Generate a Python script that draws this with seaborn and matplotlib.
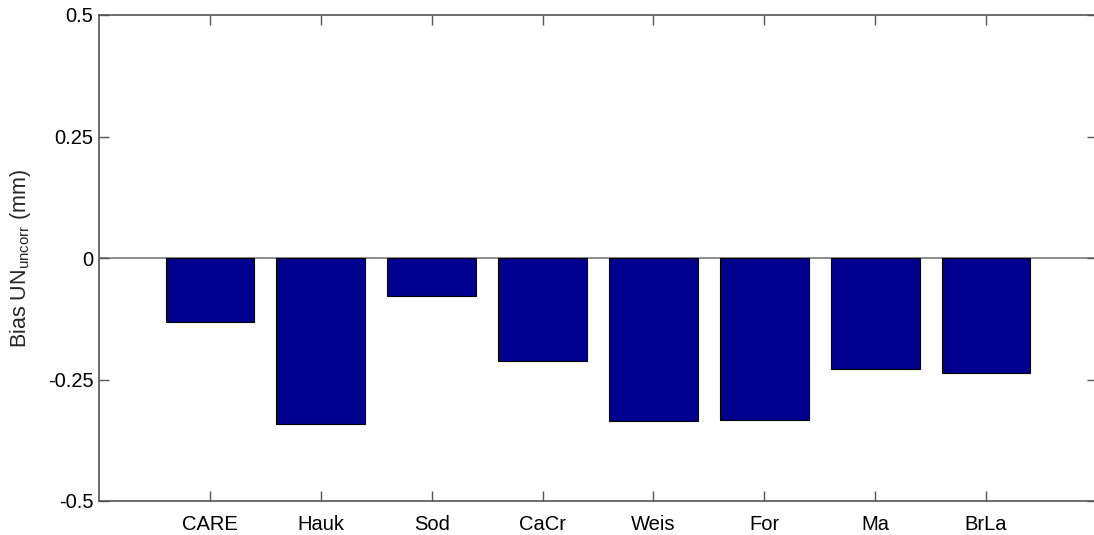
import matplotlib
matplotlib.use("Agg")
import matplotlib.pyplot as plt
import seaborn as sns
import pandas as pd

stations = ["CARE", "Hauk", "Sod", "CaCr", "Weis", "For", "Ma", "BrLa"]
bias_un = [-0.131, -0.341, -0.078, -0.211, -0.336, -0.333, -0.229, -0.237]
y_ticks = [-0.5, -0.25, 0, 0.25, 0.5]
y_tick_labels = ["-0.5", "-0.25", "0", "0.25", "0.5"]

sns.set_theme(style="white")
plt.rcParams["font.family"] = ["Liberation Sans", "DejaVu Sans"]
plt.rcParams["mathtext.fontset"] = "custom"
plt.rcParams["mathtext.rm"] = "Liberation Sans"

df = pd.DataFrame({"station": stations, "bias": bias_un})

fig = plt.figure(figsize=(10.94, 5.35), dpi=100)
W, H = 1094, 535
left, right, top, bottom = 99, 1097, 15, 501
ax = fig.add_axes([left / W, 1 - bottom / H, (right - left) / W, (bottom - top) / H])

sns.barplot(data=df, x="station", y="bias", color="#00008F", saturation=1,
            width=0.8, edgecolor="black", linewidth=0.8, ax=ax)

ax.axhline(0, color="#7a7a7a", lw=1.2, zorder=0.5)
ax.set_xlim(-1, 8)
ax.set_ylim(-0.5, 0.5)
ax.set_yticks(y_ticks)
ax.set_yticklabels(y_tick_labels)
ax.set_xlabel("")
ax.set_ylabel(r"Bias UN$_\mathregular{uncorr}$ (mm)", fontsize=15.5)
ax.yaxis.set_label_coords(-0.066, 0.5)

for s in ax.spines.values():
    s.set_visible(True)
    s.set_color("#555555")
    s.set_linewidth(1.2)

ax.tick_params(axis="both", which="major", direction="in", length=7, width=1,
               color="#555555", labelsize=14.5, labelcolor="black",
               top=True, right=True, left=True, bottom=True)
ax.tick_params(axis="y", pad=4)
ax.tick_params(axis="x", pad=10)

fig.savefig("out.png", dpi=100)
